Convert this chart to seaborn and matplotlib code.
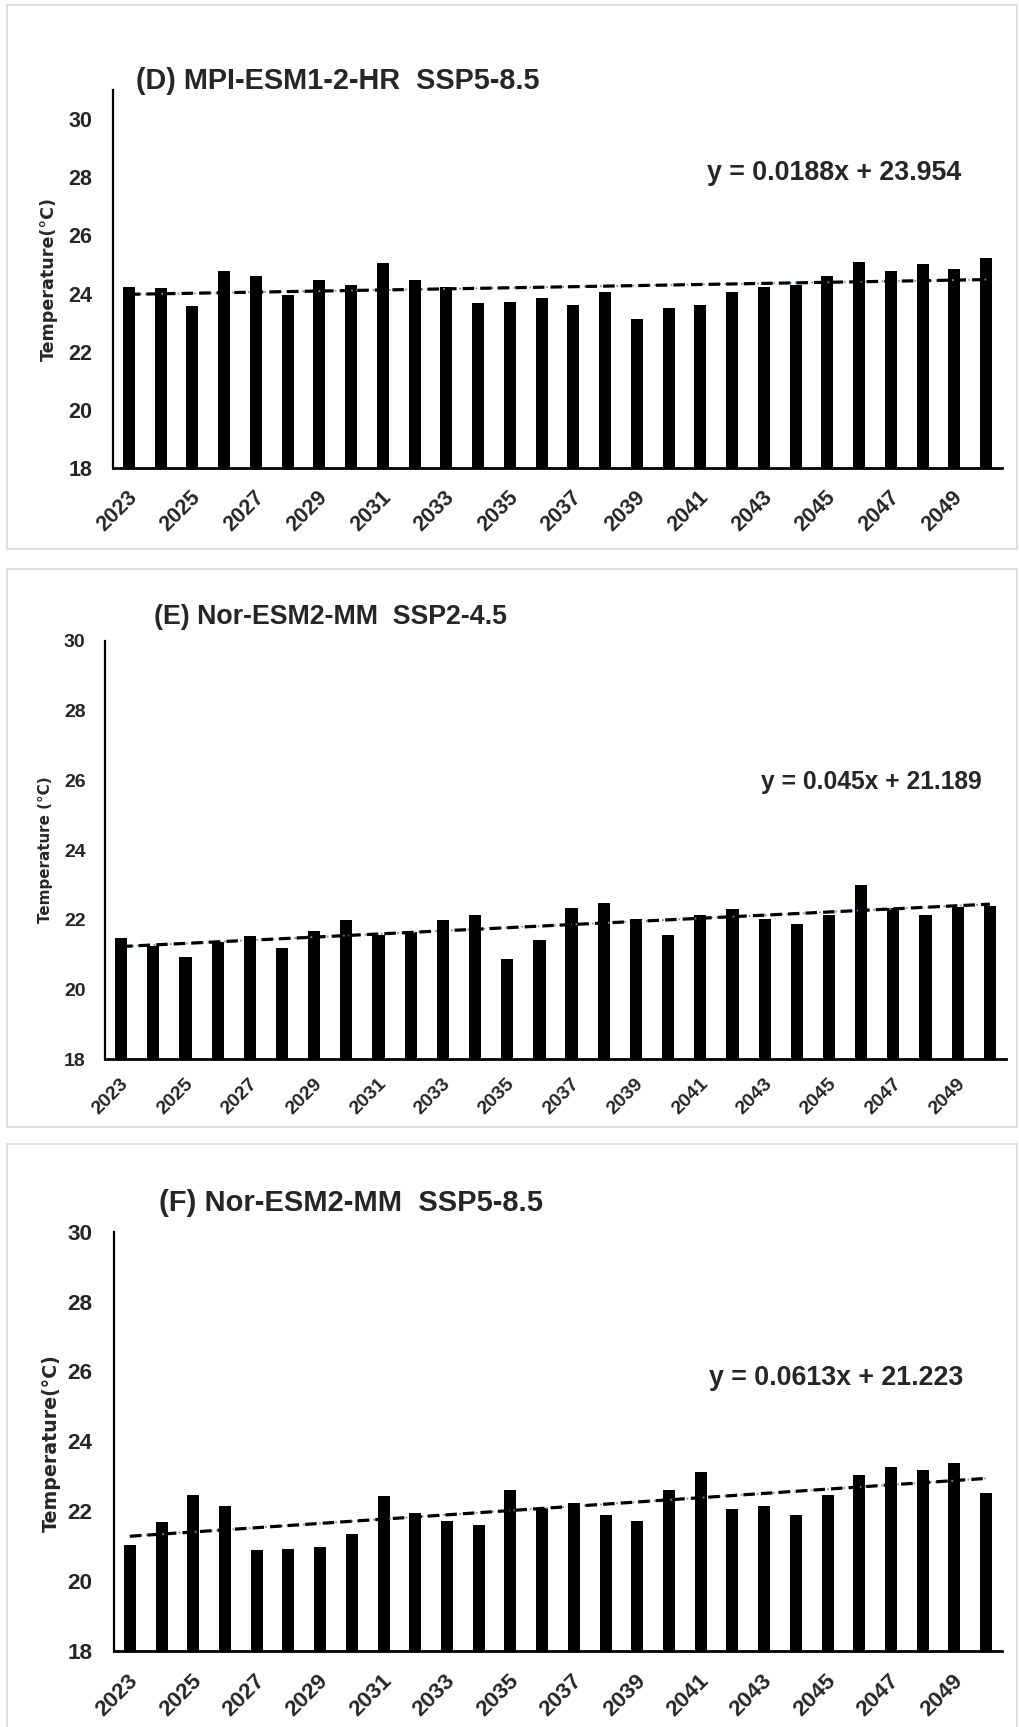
import matplotlib
matplotlib.use("Agg")
import matplotlib.pyplot as plt
import matplotlib.transforms as mtransforms
from matplotlib.patches import Rectangle
import numpy as np
import pandas as pd
import seaborn as sns

# ---- data -------------------------------------------------------------
years = list(range(2023, 2051))
tick_years = years[::2]
y_ticks = [18, 20, 22, 24, 26, 28, 30]

temp_mpi_ssp585 = [24.23, 24.18, 23.56, 24.77, 24.61, 23.96, 24.45, 24.28, 25.05, 24.45,
                   24.23, 23.69, 23.72, 23.85, 23.62, 24.06, 23.13, 23.51, 23.62, 24.06,
                   24.23, 24.28, 24.61, 25.10, 24.77, 25.00, 24.83, 25.22]
temp_nor_ssp245 = [21.49, 21.25, 20.92, 21.36, 21.53, 21.18, 21.68, 21.99, 21.57, 21.66,
                   21.99, 22.13, 20.88, 21.41, 22.35, 22.49, 22.02, 21.56, 22.13, 22.31,
                   22.02, 21.87, 22.13, 23.00, 22.35, 22.13, 22.38, 22.40]
temp_nor_ssp585 = [21.02, 21.69, 22.47, 22.15, 20.88, 20.93, 20.98, 21.36, 22.43, 21.95,
                   21.72, 21.60, 22.62, 22.09, 22.24, 21.88, 21.72, 22.62, 23.13, 22.05,
                   22.15, 21.88, 22.47, 23.03, 23.27, 23.18, 23.37, 22.52]

titles = ["(D) MPI-ESM1-2-HR  SSP5-8.5",
          "(E) Nor-ESM2-MM  SSP2-4.5",
          "(F) Nor-ESM2-MM  SSP5-8.5"]
ylabels = ["Temperature(°C)", "Temperature (°C)", "Temperature(°C)"]
trend_slopes = [0.0188, 0.045, 0.0613]
trend_intercepts = [23.954, 21.189, 21.223]
y_tops = [31, 30, 30]

series = [temp_mpi_ssp585, temp_nor_ssp245, temp_nor_ssp585]

# ---- layout (pixel geometry of a 1020 x 1727 canvas) ------------------
W, H = 1020, 1727
panels = [
    dict(box=(7, 5, 1017, 549), ax=(113, 90, 1002, 468),
         title=(136, 81, 20.8), eq=(707, 173, 19.3), ylab=(49, 279, 12.6),
         tick=15.5, ypad=15, xpad=19),
    dict(box=(7, 569, 1017, 1127), ax=(105, 640.6, 1006, 1059.4),
         title=(154, 617, 19.3), eq=(761, 782, 17.7), ylab=(46, 850, 10.9),
         tick=14.0, ypad=14, xpad=16),
    dict(box=(7, 1144, 1017, 1740), ax=(114, 1231.7, 1002, 1651),
         title=(159, 1203, 21.0), eq=(709, 1378, 19.3), ylab=(51, 1443, 13.7),
         tick=16.2, ypad=15.5, xpad=19.5),
]

sns.set_style("white")
sans = ["Liberation Sans", "DejaVu Sans"]
plt.rcParams["font.family"] = sans

fig = plt.figure(figsize=(W / 100, H / 100), dpi=100)
fig.patch.set_facecolor("white")


def fx(x):
    return x / W


def fy(y):
    return 1 - y / H


for vals, title, ylab, slope, icpt, ytop, p in zip(
        series, titles, ylabels, trend_slopes, trend_intercepts, y_tops, panels):
    # panel frame
    x0, y0, x1, y1 = p["box"]
    fig.add_artist(Rectangle((fx(x0), fy(y1)), fx(x1) - fx(x0), fy(y0) - fy(y1),
                             transform=fig.transFigure, fill=False,
                             edgecolor="#d9d9d9", linewidth=1.2, zorder=0))

    l, t, r, b = p["ax"]
    ax = fig.add_axes([fx(l), fy(b), fx(r) - fx(l), fy(t) - fy(b)])
    df = pd.DataFrame({"year": years, "temp": vals})
    sns.barplot(data=df, x="year", y="temp", color="black", saturation=1,
                width=0.38, linewidth=0, errorbar=None, ax=ax)

    # linear trend from the fitted equation (x = 1..n)
    idx = np.arange(len(years))
    trend = slope * (idx + 1) + icpt
    ax.plot(idx, trend, color="#5b9bd5", linewidth=1.3, linestyle=(0, (1, 2.0)), zorder=3)
    ax.plot(idx, trend, color="black", linewidth=2.3, dashes=(3.6, 1.9), zorder=4)

    ax.set_ylim(18, ytop)
    ax.set_xlim(-0.5, len(years) - 0.5)
    ax.set_yticks(y_ticks)
    ax.set_yticklabels([str(v) for v in y_ticks], fontsize=p["tick"],
                       fontweight="bold", family=sans)
    ax.set_xticks(list(range(0, len(years), 2)))
    ax.set_xticklabels([str(v) for v in tick_years], rotation=45, ha="right",
                       va="center", rotation_mode="anchor", fontsize=p["tick"],
                       fontweight="bold", family=sans)
    ax.tick_params(axis="y", length=0, pad=p["ypad"])
    ax.tick_params(axis="x", length=0, pad=p["xpad"])
    shift = mtransforms.ScaledTranslation(5 / 100, 0, fig.dpi_scale_trans)
    for lab in ax.get_xticklabels():
        lab.set_transform(lab.get_transform() + shift)
    ax.set_xlabel("")
    ax.set_ylabel("")
    sns.despine(ax=ax)
    ax.spines["left"].set_linewidth(1.6)
    ax.spines["bottom"].set_linewidth(2.0)
    ax.spines["left"].set_color("black")
    ax.spines["bottom"].set_color("black")
    ax.set_facecolor("none")

    tx, ty, ts = p["title"]
    fig.text(fx(tx), fy(ty), title, ha="left", va="center", fontsize=ts,
             fontweight="bold", family=sans)
    ex, ey, es = p["eq"]
    fig.text(fx(ex), fy(ey), f"y = {slope}x + {icpt}", ha="left", va="center",
             fontsize=es, fontweight="bold", family=sans)
    lx, ly, ls = p["ylab"]
    fig.text(fx(lx), fy(ly), ylab, ha="center", va="center", rotation=90,
             fontsize=ls, fontweight="bold", family=["DejaVu Sans"])

fig.savefig("out.png", dpi=100, facecolor="white")
